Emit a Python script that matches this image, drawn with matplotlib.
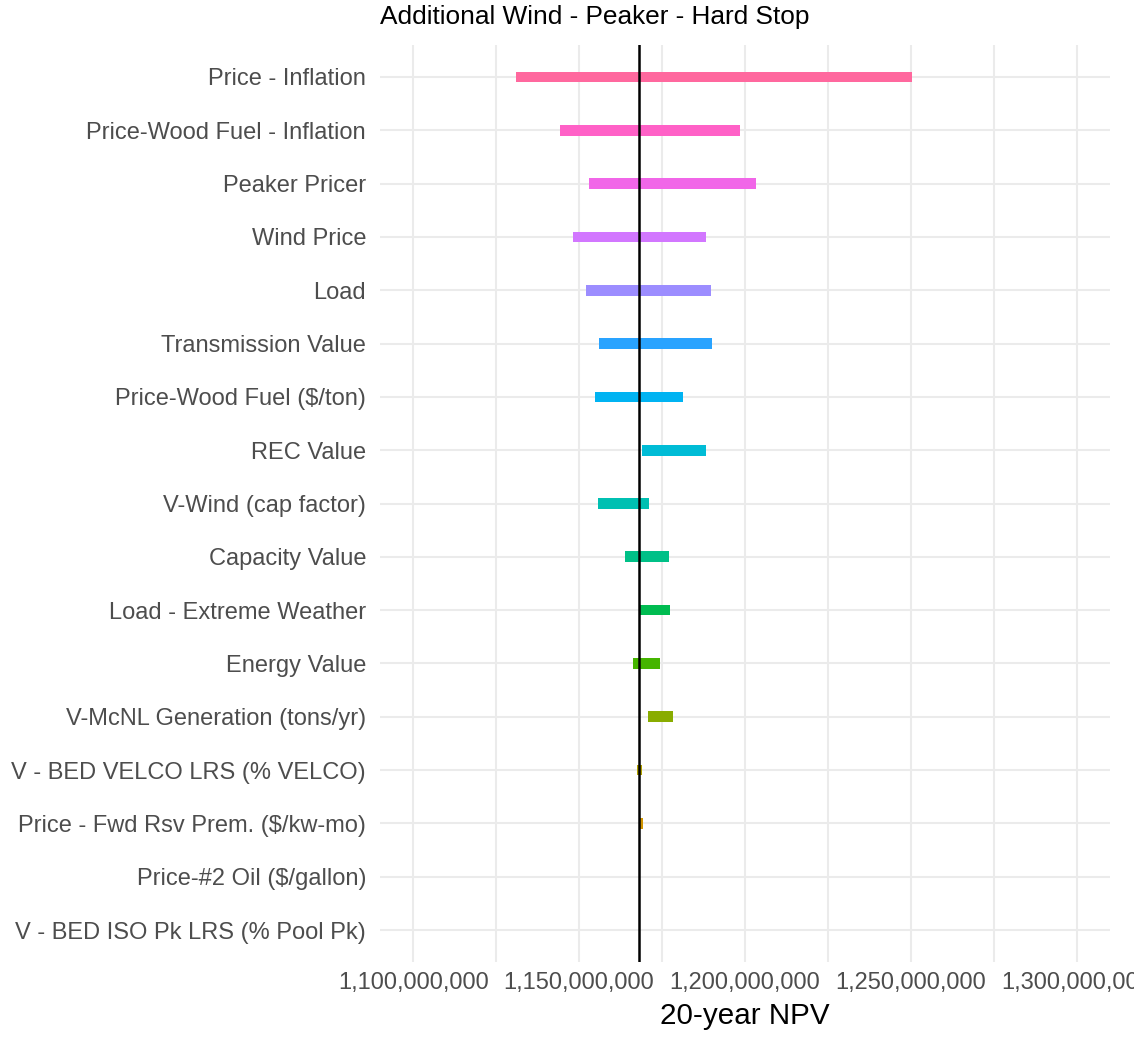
import numpy as np
import matplotlib
matplotlib.use("Agg")
import matplotlib.pyplot as plt
from matplotlib.ticker import FuncFormatter, MultipleLocator

plt.rcParams['font.family'] = ['Liberation Sans', 'DejaVu Sans']

# factors listed bottom to top (factor level order)
factors = [
    "V - BED ISO Pk LRS (% Pool Pk)",
    "Price-#2 Oil ($/gallon)",
    "Price - Fwd Rsv Prem. ($/kw-mo)",
    "V - BED VELCO LRS (% VELCO)",
    "V-McNL Generation (tons/yr)",
    "Energy Value",
    "Load - Extreme Weather",
    "Capacity Value",
    "V-Wind (cap factor)",
    "REC Value",
    "Price-Wood Fuel ($/ton)",
    "Transmission Value",
    "Load",
    "Wind Price",
    "Peaker Pricer",
    "Price-Wood Fuel - Inflation",
    "Price - Inflation",
]
low_npv = [1168.2, 1168.2, 1168.5, 1167.6, 1170.9, 1166.1, 1168.4, 1163.8, 1155.6,
           1168.9, 1154.7, 1156.0, 1152.0, 1148.1, 1153.1, 1144.3, 1131.1]
high_npv = [1168.2, 1168.2, 1169.4, 1169.0, 1178.3, 1174.3, 1177.3, 1177.1, 1171.1,
            1188.3, 1181.3, 1190.1, 1189.7, 1188.3, 1203.3, 1198.6, 1250.4]
base_npv = 1168.2  # millions


def hue_pal(n, c=100.0, l=65.0):
    # ggplot2 default discrete palette (hcl colours)
    hues = np.linspace(15, 375, n + 1)[:n]
    xn, yn, zn = 95.047, 100.0, 108.883
    un = 4 * xn / (xn + 15 * yn + 3 * zn)
    vn = 9 * yn / (xn + 15 * yn + 3 * zn)
    out = []
    for h in hues:
        u = c * np.cos(np.radians(h))
        v = c * np.sin(np.radians(h))
        y = yn * ((l + 16) / 116) ** 3
        uu = u / (13 * l) + un
        vv = v / (13 * l) + vn
        x = 9.0 * y * uu / (4 * vv)
        z = -x / 3 - 5 * y + 3 * y / vv
        x, y, z = x / 100, y / 100, z / 100
        r = 3.240479 * x - 1.537150 * y - 0.498535 * z
        g = -0.969256 * x + 1.875992 * y + 0.041556 * z
        b = 0.055648 * x - 0.204043 * y + 1.057311 * z
        rgb = []
        for ch in (r, g, b):
            ch = 1.055 * ch ** (1 / 2.4) - 0.055 if ch > 0.0031308 else 12.92 * ch
            rgb.append(min(max(ch, 0), 1))
        out.append(tuple(rgb))
    return out


colors = hue_pal(len(factors))
ypos = np.arange(1, len(factors) + 1)
low = np.array(low_npv) * 1e6
high = np.array(high_npv) * 1e6

fig = plt.figure(figsize=(11.34, 10.38), dpi=100)
ax = fig.add_axes([380 / 1134, 1 - 962 / 1038, 730 / 1134, 917 / 1038])

ax.barh(ypos, high - low, left=low, height=0.2, color=colors, zorder=3)
ax.axvline(base_npv * 1e6, color='black', linewidth=1.8, zorder=4)

ax.set_xlim(1.09e9, 1.31e9)
ax.set_ylim(0.4, len(factors) + 0.6)
ax.xaxis.set_major_locator(MultipleLocator(5e7))
ax.xaxis.set_minor_locator(MultipleLocator(2.5e7))
ax.xaxis.set_major_formatter(FuncFormatter(lambda v, p: f"{v:,.0f}"))
ax.set_yticks(ypos)
ax.set_yticklabels(factors)

ax.grid(True, which='both', axis='x', color='#EBEBEB', linewidth=1.5, zorder=0)
ax.grid(True, which='major', axis='y', color='#EBEBEB', linewidth=1.5, zorder=0)
ax.set_axisbelow(True)
for s in ax.spines.values():
    s.set_visible(False)
ax.tick_params(axis='both', which='both', length=0, labelsize=17, labelcolor='#4D4D4D')
ax.tick_params(axis='y', pad=10)
ax.tick_params(axis='x', pad=7)

ax.set_xlabel("20-year NPV", fontsize=21.3, labelpad=6)
fig.text(380 / 1134, 1 - 17 / 1038, "Additional Wind - Peaker - Hard Stop",
         fontsize=18.9, ha='left', va='center')

fig.savefig("out.png", dpi=100)
